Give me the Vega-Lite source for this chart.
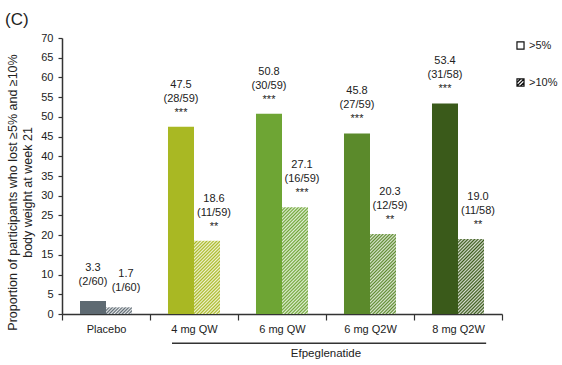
{
  "$schema": "https://vega.github.io/schema/vega-lite/v6.json",
  "width": 440,
  "height": 276,
  "autosize": {"type": "none"},
  "padding": {"left": 62, "top": 38, "right": 60, "bottom": 51},
  "background": "white",
  "title": {"text": "(C)", "anchor": "start", "frame": "group", "fontSize": 17, "fontWeight": "normal", "color": "#222", "dx": -57, "offset": 3},
  "config": {
    "view": {"stroke": null},
    "font": "Liberation Sans",
    "axis": {"domainColor": "#333", "domainWidth": 1.5, "tickColor": "#333", "tickWidth": 1.2, "labelColor": "#222", "labelFontSize": 11, "titleColor": "#222", "titleFontWeight": "normal", "grid": false, "labelOverlap": false, "labelBound": false, "labelSeparation": 0},
    "axisQuantitative": {"labelOverlap": false, "tickCount": 15},
    "axisY": {"labelOverlap": false, "tickCount": 15, "tickSize": 4, "labelPadding": 5, "titlePadding": 6, "titleFontSize": 12.5, "titleLineHeight": 15, "titleY": 154}
  },
  "data": {
    "values": [
      {"group": "Placebo", "series": ">5%", "value": 3.3, "frac": "(2/60)", "sig": ""},
      {"group": "Placebo", "series": ">10%", "value": 1.7, "frac": "(1/60)", "sig": ""},
      {"group": "4 mg QW", "series": ">5%", "value": 47.5, "frac": "(28/59)", "sig": "***"},
      {"group": "4 mg QW", "series": ">10%", "value": 18.6, "frac": "(11/59)", "sig": "**"},
      {"group": "6 mg QW", "series": ">5%", "value": 50.8, "frac": "(30/59)", "sig": "***"},
      {"group": "6 mg QW", "series": ">10%", "value": 27.1, "frac": "(16/59)", "sig": "***"},
      {"group": "6 mg Q2W", "series": ">5%", "value": 45.8, "frac": "(27/59)", "sig": "***"},
      {"group": "6 mg Q2W", "series": ">10%", "value": 20.3, "frac": "(12/59)", "sig": "**"},
      {"group": "8 mg Q2W", "series": ">5%", "value": 53.4, "frac": "(31/58)", "sig": "***"},
      {"group": "8 mg Q2W", "series": ">10%", "value": 19.0, "frac": "(11/58)", "sig": "**"}
    ]
  },
  "transform": [
    {"calculate": "datum.sig ? [format(datum.value, '.1f'), datum.frac, datum.sig] : [format(datum.value, '.1f'), datum.frac]", "as": "label"}
  ],
  "layer": [
    {
      "transform": [{"filter": "datum.series === '>5%'"}],
      "mark": {"type": "bar"},
      "encoding": {
        "x": {"field": "group", "type": "nominal", "sort": null,
          "scale": {"domain": ["Placebo", "4 mg QW", "6 mg QW", "6 mg Q2W", "8 mg Q2W"], "paddingInner": 0, "paddingOuter": 0},
          "axis": {"title": null, "labelAngle": 0, "tickBand": "extent", "tickSize": 6, "labelPadding": 3}},
        "xOffset": {"field": "series", "type": "nominal", "scale": {"domain": [">5%", ">10%"], "paddingInner": 0, "paddingOuter": 0.692}},
        "y": {"field": "value", "type": "quantitative", "scale": {"domain": [0, 70], "nice": false},
          "axis": {"title": ["Proportion of participants who lost ≥5% and ≥10%", "body weight at week 21"], "values": [0, 5, 10, 15, 20, 25, 30, 35, 40, 45, 50, 55, 60, 65, 70], "tickCount": 15, "labelOverlap": false}},
        "fill": {"field": "group", "type": "nominal",
          "scale": {"domain": ["Placebo", "4 mg QW", "6 mg QW", "6 mg Q2W", "8 mg Q2W"], "range": ["#5e6a72", "#a9b823", "#6ea534", "#5b8a2b", "#3a5a1a"]},
          "legend": null}
      }
    },
    {
      "transform": [{"filter": "datum.series === '>10%' && datum.group === 'Placebo'"}],
      "mark": {"type": "bar", "fill": {"gradient": "linear", "x1": 0, "y1": 0, "x2": 1.179, "y2": 0.304, "stops": [
        {"offset": 0, "color": "#5e6a72"}, {"offset": 0.05, "color": "#e6e8ea"}, {"offset": 0.1, "color": "#5e6a72"}, {"offset": 0.15, "color": "#e6e8ea"},
        {"offset": 0.2, "color": "#5e6a72"}, {"offset": 0.25, "color": "#e6e8ea"}, {"offset": 0.3, "color": "#5e6a72"}, {"offset": 0.35, "color": "#e6e8ea"},
        {"offset": 0.4, "color": "#5e6a72"}, {"offset": 0.45, "color": "#e6e8ea"}, {"offset": 0.5, "color": "#5e6a72"}, {"offset": 0.55, "color": "#e6e8ea"},
        {"offset": 0.6, "color": "#5e6a72"}, {"offset": 0.65, "color": "#e6e8ea"}, {"offset": 0.7, "color": "#5e6a72"}, {"offset": 0.75, "color": "#e6e8ea"},
        {"offset": 0.8, "color": "#5e6a72"}, {"offset": 0.85, "color": "#e6e8ea"}, {"offset": 0.9, "color": "#5e6a72"}, {"offset": 0.95, "color": "#e6e8ea"},
        {"offset": 1, "color": "#5e6a72"}]}},
      "encoding": {
        "x": {"field": "group", "type": "nominal", "sort": null},
        "xOffset": {"field": "series", "type": "nominal"},
        "y": {"field": "value", "type": "quantitative"}
      }
    },
    {
      "transform": [{"filter": "datum.series === '>10%' && datum.group === '4 mg QW'"}],
      "mark": {"type": "bar", "fill": {"gradient": "linear", "x1": 0, "y1": 0, "x2": 0.4266, "y2": 1.2033, "stops": [
        {"offset": 0, "color": "#a9b823"}, {"offset": 0.0167, "color": "#f0f3d6"}, {"offset": 0.0333, "color": "#a9b823"}, {"offset": 0.05, "color": "#f0f3d6"},
        {"offset": 0.0667, "color": "#a9b823"}, {"offset": 0.0833, "color": "#f0f3d6"}, {"offset": 0.1, "color": "#a9b823"}, {"offset": 0.1167, "color": "#f0f3d6"},
        {"offset": 0.1333, "color": "#a9b823"}, {"offset": 0.15, "color": "#f0f3d6"}, {"offset": 0.1667, "color": "#a9b823"}, {"offset": 0.1833, "color": "#f0f3d6"},
        {"offset": 0.2, "color": "#a9b823"}, {"offset": 0.2167, "color": "#f0f3d6"}, {"offset": 0.2333, "color": "#a9b823"}, {"offset": 0.25, "color": "#f0f3d6"},
        {"offset": 0.2667, "color": "#a9b823"}, {"offset": 0.2833, "color": "#f0f3d6"}, {"offset": 0.3, "color": "#a9b823"}, {"offset": 0.3167, "color": "#f0f3d6"},
        {"offset": 0.3333, "color": "#a9b823"}, {"offset": 0.35, "color": "#f0f3d6"}, {"offset": 0.3667, "color": "#a9b823"}, {"offset": 0.3833, "color": "#f0f3d6"},
        {"offset": 0.4, "color": "#a9b823"}, {"offset": 0.4167, "color": "#f0f3d6"}, {"offset": 0.4333, "color": "#a9b823"}, {"offset": 0.45, "color": "#f0f3d6"},
        {"offset": 0.4667, "color": "#a9b823"}, {"offset": 0.4833, "color": "#f0f3d6"}, {"offset": 0.5, "color": "#a9b823"}, {"offset": 0.5167, "color": "#f0f3d6"},
        {"offset": 0.5333, "color": "#a9b823"}, {"offset": 0.55, "color": "#f0f3d6"}, {"offset": 0.5667, "color": "#a9b823"}, {"offset": 0.5833, "color": "#f0f3d6"},
        {"offset": 0.6, "color": "#a9b823"}, {"offset": 0.6167, "color": "#f0f3d6"}, {"offset": 0.6333, "color": "#a9b823"}, {"offset": 0.65, "color": "#f0f3d6"},
        {"offset": 0.6667, "color": "#a9b823"}, {"offset": 0.6833, "color": "#f0f3d6"}, {"offset": 0.7, "color": "#a9b823"}, {"offset": 0.7167, "color": "#f0f3d6"},
        {"offset": 0.7333, "color": "#a9b823"}, {"offset": 0.75, "color": "#f0f3d6"}, {"offset": 0.7667, "color": "#a9b823"}, {"offset": 0.7833, "color": "#f0f3d6"},
        {"offset": 0.8, "color": "#a9b823"}, {"offset": 0.8167, "color": "#f0f3d6"}, {"offset": 0.8333, "color": "#a9b823"}, {"offset": 0.85, "color": "#f0f3d6"},
        {"offset": 0.8667, "color": "#a9b823"}, {"offset": 0.8833, "color": "#f0f3d6"}, {"offset": 0.9, "color": "#a9b823"}, {"offset": 0.9167, "color": "#f0f3d6"},
        {"offset": 0.9333, "color": "#a9b823"}, {"offset": 0.95, "color": "#f0f3d6"}, {"offset": 0.9667, "color": "#a9b823"}, {"offset": 0.9833, "color": "#f0f3d6"},
        {"offset": 1, "color": "#a9b823"}]}},
      "encoding": {
        "x": {"field": "group", "type": "nominal", "sort": null},
        "xOffset": {"field": "series", "type": "nominal"},
        "y": {"field": "value", "type": "quantitative"}
      }
    },
    {
      "transform": [{"filter": "datum.series === '>10%' && datum.group === '6 mg QW'"}],
      "mark": {"type": "bar", "fill": {"gradient": "linear", "x1": 0, "y1": 0, "x2": 0.2856, "y2": 1.1739, "stops": [
        {"offset": 0, "color": "#6ea534"}, {"offset": 0.0125, "color": "#e3efd8"}, {"offset": 0.025, "color": "#6ea534"}, {"offset": 0.0375, "color": "#e3efd8"},
        {"offset": 0.05, "color": "#6ea534"}, {"offset": 0.0625, "color": "#e3efd8"}, {"offset": 0.075, "color": "#6ea534"}, {"offset": 0.0875, "color": "#e3efd8"},
        {"offset": 0.1, "color": "#6ea534"}, {"offset": 0.1125, "color": "#e3efd8"}, {"offset": 0.125, "color": "#6ea534"}, {"offset": 0.1375, "color": "#e3efd8"},
        {"offset": 0.15, "color": "#6ea534"}, {"offset": 0.1625, "color": "#e3efd8"}, {"offset": 0.175, "color": "#6ea534"}, {"offset": 0.1875, "color": "#e3efd8"},
        {"offset": 0.2, "color": "#6ea534"}, {"offset": 0.2125, "color": "#e3efd8"}, {"offset": 0.225, "color": "#6ea534"}, {"offset": 0.2375, "color": "#e3efd8"},
        {"offset": 0.25, "color": "#6ea534"}, {"offset": 0.2625, "color": "#e3efd8"}, {"offset": 0.275, "color": "#6ea534"}, {"offset": 0.2875, "color": "#e3efd8"},
        {"offset": 0.3, "color": "#6ea534"}, {"offset": 0.3125, "color": "#e3efd8"}, {"offset": 0.325, "color": "#6ea534"}, {"offset": 0.3375, "color": "#e3efd8"},
        {"offset": 0.35, "color": "#6ea534"}, {"offset": 0.3625, "color": "#e3efd8"}, {"offset": 0.375, "color": "#6ea534"}, {"offset": 0.3875, "color": "#e3efd8"},
        {"offset": 0.4, "color": "#6ea534"}, {"offset": 0.4125, "color": "#e3efd8"}, {"offset": 0.425, "color": "#6ea534"}, {"offset": 0.4375, "color": "#e3efd8"},
        {"offset": 0.45, "color": "#6ea534"}, {"offset": 0.4625, "color": "#e3efd8"}, {"offset": 0.475, "color": "#6ea534"}, {"offset": 0.4875, "color": "#e3efd8"},
        {"offset": 0.5, "color": "#6ea534"}, {"offset": 0.5125, "color": "#e3efd8"}, {"offset": 0.525, "color": "#6ea534"}, {"offset": 0.5375, "color": "#e3efd8"},
        {"offset": 0.55, "color": "#6ea534"}, {"offset": 0.5625, "color": "#e3efd8"}, {"offset": 0.575, "color": "#6ea534"}, {"offset": 0.5875, "color": "#e3efd8"},
        {"offset": 0.6, "color": "#6ea534"}, {"offset": 0.6125, "color": "#e3efd8"}, {"offset": 0.625, "color": "#6ea534"}, {"offset": 0.6375, "color": "#e3efd8"},
        {"offset": 0.65, "color": "#6ea534"}, {"offset": 0.6625, "color": "#e3efd8"}, {"offset": 0.675, "color": "#6ea534"}, {"offset": 0.6875, "color": "#e3efd8"},
        {"offset": 0.7, "color": "#6ea534"}, {"offset": 0.7125, "color": "#e3efd8"}, {"offset": 0.725, "color": "#6ea534"}, {"offset": 0.7375, "color": "#e3efd8"},
        {"offset": 0.75, "color": "#6ea534"}, {"offset": 0.7625, "color": "#e3efd8"}, {"offset": 0.775, "color": "#6ea534"}, {"offset": 0.7875, "color": "#e3efd8"},
        {"offset": 0.8, "color": "#6ea534"}, {"offset": 0.8125, "color": "#e3efd8"}, {"offset": 0.825, "color": "#6ea534"}, {"offset": 0.8375, "color": "#e3efd8"},
        {"offset": 0.85, "color": "#6ea534"}, {"offset": 0.8625, "color": "#e3efd8"}, {"offset": 0.875, "color": "#6ea534"}, {"offset": 0.8875, "color": "#e3efd8"},
        {"offset": 0.9, "color": "#6ea534"}, {"offset": 0.9125, "color": "#e3efd8"}, {"offset": 0.925, "color": "#6ea534"}, {"offset": 0.9375, "color": "#e3efd8"},
        {"offset": 0.95, "color": "#6ea534"}, {"offset": 0.9625, "color": "#e3efd8"}, {"offset": 0.975, "color": "#6ea534"}, {"offset": 0.9875, "color": "#e3efd8"},
        {"offset": 1, "color": "#6ea534"}]}},
      "encoding": {
        "x": {"field": "group", "type": "nominal", "sort": null},
        "xOffset": {"field": "series", "type": "nominal"},
        "y": {"field": "value", "type": "quantitative"}
      }
    },
    {
      "transform": [{"filter": "datum.series === '>10%' && datum.group === '6 mg Q2W'"}],
      "mark": {"type": "bar", "fill": {"gradient": "linear", "x1": 0, "y1": 0, "x2": 0.3893, "y2": 1.1984, "stops": [
        {"offset": 0, "color": "#5b8a2b"}, {"offset": 0.0156, "color": "#dfe8d6"}, {"offset": 0.0313, "color": "#5b8a2b"}, {"offset": 0.0469, "color": "#dfe8d6"},
        {"offset": 0.0625, "color": "#5b8a2b"}, {"offset": 0.0781, "color": "#dfe8d6"}, {"offset": 0.0938, "color": "#5b8a2b"}, {"offset": 0.1094, "color": "#dfe8d6"},
        {"offset": 0.125, "color": "#5b8a2b"}, {"offset": 0.1406, "color": "#dfe8d6"}, {"offset": 0.1563, "color": "#5b8a2b"}, {"offset": 0.1719, "color": "#dfe8d6"},
        {"offset": 0.1875, "color": "#5b8a2b"}, {"offset": 0.2031, "color": "#dfe8d6"}, {"offset": 0.2188, "color": "#5b8a2b"}, {"offset": 0.2344, "color": "#dfe8d6"},
        {"offset": 0.25, "color": "#5b8a2b"}, {"offset": 0.2656, "color": "#dfe8d6"}, {"offset": 0.2813, "color": "#5b8a2b"}, {"offset": 0.2969, "color": "#dfe8d6"},
        {"offset": 0.3125, "color": "#5b8a2b"}, {"offset": 0.3281, "color": "#dfe8d6"}, {"offset": 0.3438, "color": "#5b8a2b"}, {"offset": 0.3594, "color": "#dfe8d6"},
        {"offset": 0.375, "color": "#5b8a2b"}, {"offset": 0.3906, "color": "#dfe8d6"}, {"offset": 0.4063, "color": "#5b8a2b"}, {"offset": 0.4219, "color": "#dfe8d6"},
        {"offset": 0.4375, "color": "#5b8a2b"}, {"offset": 0.4531, "color": "#dfe8d6"}, {"offset": 0.4688, "color": "#5b8a2b"}, {"offset": 0.4844, "color": "#dfe8d6"},
        {"offset": 0.5, "color": "#5b8a2b"}, {"offset": 0.5156, "color": "#dfe8d6"}, {"offset": 0.5313, "color": "#5b8a2b"}, {"offset": 0.5469, "color": "#dfe8d6"},
        {"offset": 0.5625, "color": "#5b8a2b"}, {"offset": 0.5781, "color": "#dfe8d6"}, {"offset": 0.5938, "color": "#5b8a2b"}, {"offset": 0.6094, "color": "#dfe8d6"},
        {"offset": 0.625, "color": "#5b8a2b"}, {"offset": 0.6406, "color": "#dfe8d6"}, {"offset": 0.6563, "color": "#5b8a2b"}, {"offset": 0.6719, "color": "#dfe8d6"},
        {"offset": 0.6875, "color": "#5b8a2b"}, {"offset": 0.7031, "color": "#dfe8d6"}, {"offset": 0.7188, "color": "#5b8a2b"}, {"offset": 0.7344, "color": "#dfe8d6"},
        {"offset": 0.75, "color": "#5b8a2b"}, {"offset": 0.7656, "color": "#dfe8d6"}, {"offset": 0.7813, "color": "#5b8a2b"}, {"offset": 0.7969, "color": "#dfe8d6"},
        {"offset": 0.8125, "color": "#5b8a2b"}, {"offset": 0.8281, "color": "#dfe8d6"}, {"offset": 0.8438, "color": "#5b8a2b"}, {"offset": 0.8594, "color": "#dfe8d6"},
        {"offset": 0.875, "color": "#5b8a2b"}, {"offset": 0.8906, "color": "#dfe8d6"}, {"offset": 0.9063, "color": "#5b8a2b"}, {"offset": 0.9219, "color": "#dfe8d6"},
        {"offset": 0.9375, "color": "#5b8a2b"}, {"offset": 0.9531, "color": "#dfe8d6"}, {"offset": 0.9688, "color": "#5b8a2b"}, {"offset": 0.9844, "color": "#dfe8d6"},
        {"offset": 1, "color": "#5b8a2b"}]}},
      "encoding": {
        "x": {"field": "group", "type": "nominal", "sort": null},
        "xOffset": {"field": "series", "type": "nominal"},
        "y": {"field": "value", "type": "quantitative"}
      }
    },
    {
      "transform": [{"filter": "datum.series === '>10%' && datum.group === '8 mg Q2W'"}],
      "mark": {"type": "bar", "fill": {"gradient": "linear", "x1": 0, "y1": 0, "x2": 0.4173, "y2": 1.2023, "stops": [
        {"offset": 0, "color": "#3a5a1a"}, {"offset": 0.0167, "color": "#d9dfd2"}, {"offset": 0.0333, "color": "#3a5a1a"}, {"offset": 0.05, "color": "#d9dfd2"},
        {"offset": 0.0667, "color": "#3a5a1a"}, {"offset": 0.0833, "color": "#d9dfd2"}, {"offset": 0.1, "color": "#3a5a1a"}, {"offset": 0.1167, "color": "#d9dfd2"},
        {"offset": 0.1333, "color": "#3a5a1a"}, {"offset": 0.15, "color": "#d9dfd2"}, {"offset": 0.1667, "color": "#3a5a1a"}, {"offset": 0.1833, "color": "#d9dfd2"},
        {"offset": 0.2, "color": "#3a5a1a"}, {"offset": 0.2167, "color": "#d9dfd2"}, {"offset": 0.2333, "color": "#3a5a1a"}, {"offset": 0.25, "color": "#d9dfd2"},
        {"offset": 0.2667, "color": "#3a5a1a"}, {"offset": 0.2833, "color": "#d9dfd2"}, {"offset": 0.3, "color": "#3a5a1a"}, {"offset": 0.3167, "color": "#d9dfd2"},
        {"offset": 0.3333, "color": "#3a5a1a"}, {"offset": 0.35, "color": "#d9dfd2"}, {"offset": 0.3667, "color": "#3a5a1a"}, {"offset": 0.3833, "color": "#d9dfd2"},
        {"offset": 0.4, "color": "#3a5a1a"}, {"offset": 0.4167, "color": "#d9dfd2"}, {"offset": 0.4333, "color": "#3a5a1a"}, {"offset": 0.45, "color": "#d9dfd2"},
        {"offset": 0.4667, "color": "#3a5a1a"}, {"offset": 0.4833, "color": "#d9dfd2"}, {"offset": 0.5, "color": "#3a5a1a"}, {"offset": 0.5167, "color": "#d9dfd2"},
        {"offset": 0.5333, "color": "#3a5a1a"}, {"offset": 0.55, "color": "#d9dfd2"}, {"offset": 0.5667, "color": "#3a5a1a"}, {"offset": 0.5833, "color": "#d9dfd2"},
        {"offset": 0.6, "color": "#3a5a1a"}, {"offset": 0.6167, "color": "#d9dfd2"}, {"offset": 0.6333, "color": "#3a5a1a"}, {"offset": 0.65, "color": "#d9dfd2"},
        {"offset": 0.6667, "color": "#3a5a1a"}, {"offset": 0.6833, "color": "#d9dfd2"}, {"offset": 0.7, "color": "#3a5a1a"}, {"offset": 0.7167, "color": "#d9dfd2"},
        {"offset": 0.7333, "color": "#3a5a1a"}, {"offset": 0.75, "color": "#d9dfd2"}, {"offset": 0.7667, "color": "#3a5a1a"}, {"offset": 0.7833, "color": "#d9dfd2"},
        {"offset": 0.8, "color": "#3a5a1a"}, {"offset": 0.8167, "color": "#d9dfd2"}, {"offset": 0.8333, "color": "#3a5a1a"}, {"offset": 0.85, "color": "#d9dfd2"},
        {"offset": 0.8667, "color": "#3a5a1a"}, {"offset": 0.8833, "color": "#d9dfd2"}, {"offset": 0.9, "color": "#3a5a1a"}, {"offset": 0.9167, "color": "#d9dfd2"},
        {"offset": 0.9333, "color": "#3a5a1a"}, {"offset": 0.95, "color": "#d9dfd2"}, {"offset": 0.9667, "color": "#3a5a1a"}, {"offset": 0.9833, "color": "#d9dfd2"},
        {"offset": 1, "color": "#3a5a1a"}]}},
      "encoding": {
        "x": {"field": "group", "type": "nominal", "sort": null},
        "xOffset": {"field": "series", "type": "nominal"},
        "y": {"field": "value", "type": "quantitative"}
      }
    },
    {
      "transform": [{"filter": "datum.series === '>5%'"}],
      "mark": {"type": "text", "baseline": "bottom", "dy": {"expr": "length(datum.label) > 2 ? -37 : -28"}, "lineHeight": 14, "fontSize": 11, "color": "#222"},
      "encoding": {
        "x": {"field": "group", "type": "nominal", "sort": null},
        "xOffset": {"field": "series", "type": "nominal"},
        "y": {"field": "value", "type": "quantitative"},
        "text": {"field": "label", "type": "nominal"}
      }
    },
    {
      "transform": [{"filter": "datum.series === '>10%'"}],
      "mark": {"type": "text", "baseline": "bottom", "dy": {"expr": "length(datum.label) > 2 ? -37 : -28"}, "dx": 7, "lineHeight": 14, "fontSize": 11, "color": "#222"},
      "encoding": {
        "x": {"field": "group", "type": "nominal", "sort": null},
        "xOffset": {"field": "series", "type": "nominal"},
        "y": {"field": "value", "type": "quantitative"},
        "text": {"field": "label", "type": "nominal"}
      }
    },
    {
      "transform": [{"filter": "datum.value < 0"}],
      "mark": {"type": "point", "filled": false, "color": "#111", "strokeWidth": 1.2, "opacity": 1},
      "encoding": {
        "x": {"field": "group", "type": "nominal", "sort": null},
        "xOffset": {"field": "series", "type": "nominal"},
        "y": {"field": "value", "type": "quantitative"},
        "shape": {"field": "series", "type": "nominal",
          "scale": {"domain": [">5%", ">10%"], "range": ["square", "M-1,-1H1V1H-1ZM-1,0L0,-1M-1,1L1,-1M0,1L1,0"]},
          "legend": {"title": null, "orient": "none", "legendX": 453, "legendY": 2, "symbolSize": 50, "symbolStrokeColor": "#111", "symbolStrokeWidth": 1.2, "symbolOpacity": 1, "rowPadding": 24, "labelFontSize": 11, "labelColor": "#222", "labelOffset": 3}}
      }
    },
    {
      "data": {"values": [{"drug": "Efpeglenatide", "first": "4 mg QW", "last": "8 mg Q2W", "mid": "6 mg Q2W"}]},
      "mark": {"type": "rule", "strokeWidth": 1.5, "color": "#333"},
      "encoding": {
        "x": {"field": "first", "type": "nominal", "bandPosition": 0.25},
        "x2": {"field": "last", "bandPosition": 0.82},
        "y": {"datum": -7.4, "type": "quantitative"}
      }
    },
    {
      "data": {"values": [{"drug": "Efpeglenatide", "first": "4 mg QW", "last": "8 mg Q2W", "mid": "6 mg Q2W"}]},
      "mark": {"type": "text", "fontSize": 11.5, "baseline": "middle", "color": "#222"},
      "encoding": {
        "x": {"field": "mid", "type": "nominal", "bandPosition": 0},
        "y": {"datum": -10.2, "type": "quantitative"},
        "text": {"field": "drug", "type": "nominal"}
      }
    }
  ]
}
